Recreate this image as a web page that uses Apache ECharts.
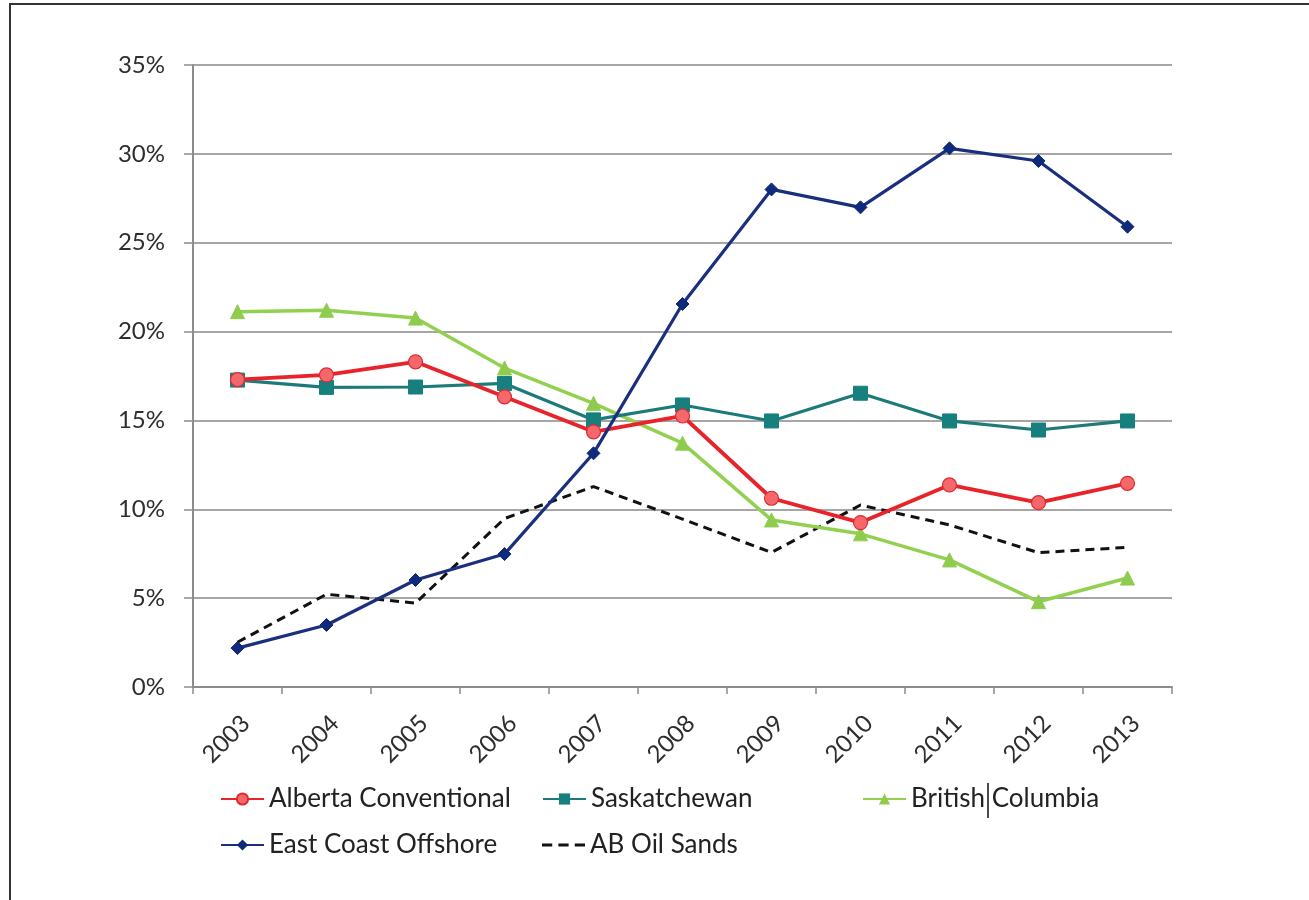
<!DOCTYPE html>
<html>
<head>
<meta charset="utf-8">
<script src="https://cdn.jsdelivr.net/npm/echarts@6/dist/echarts.min.js"></script>
<style>
  html, body { margin: 0; padding: 0; background: #fff; }
  #main { width: 1309px; height: 900px; }
</style>
</head>
<body>
<div id="main"></div>
<script>
const years = ['2003', '2004', '2005', '2006', '2007', '2008', '2009', '2010', '2011', '2012', '2013'];

const albertaConventional = [17.3, 17.56, 18.3, 16.33, 14.36, 15.25, 10.62, 9.25, 11.37, 10.37, 11.46];
const saskatchewan = [17.27, 16.86, 16.88, 17.08, 15.03, 15.87, 14.97, 16.53, 14.97, 14.46, 14.97];
const britishColumbia = [21.12, 21.2, 20.76, 17.95, 15.96, 13.72, 9.4, 8.62, 7.15, 4.8, 6.13];
const eastCoastOffshore = [2.19, 3.49, 6.02, 7.48, 13.15, 21.55, 28.0, 26.99, 30.31, 29.6, 25.9];
const abOilSands = [2.52, 5.22, 4.72, 9.48, 11.28, 9.45, 7.57, 10.24, 9.12, 7.56, 7.86];

const yTicks = { min: 0, max: 35, interval: 5 };

const font = 'Lato, "Open Sans", sans-serif';
const textColor = '#2e2e2e';
const axisGray = '#8c8c8c';

const chart = echarts.init(document.getElementById('main'));

// one legend per item so the three-column Excel layout can be kept
function legendAt(item, left, top) {
  return {
    data: [item],
    left: left,
    top: top,
    itemWidth: 43,
    itemHeight: 14,
    itemGap: 0,
    padding: 0,
    textStyle: { fontFamily: font, fontSize: 26, color: '#222' },
    selectedMode: false
  };
}

const dashIcon = 'path://M0,0h10v3h-10z M16,0h10v3h-10z M32,0h10v3h-10z';

chart.setOption({
  animation: false,
  backgroundColor: '#fff',
  graphic: [
    {
      type: 'rect',
      shape: { x: 10, y: 4, width: 1320, height: 920 },
      style: { fill: 'none', stroke: '#333', lineWidth: 2 },
      silent: true
    },
    {
      type: 'line',
      shape: { x1: 988, y1: 783, x2: 988, y2: 818 },
      style: { stroke: '#111', lineWidth: 1.5 },
      silent: true
    }
  ],
  grid: { left: 193, right: 137, top: 65, bottom: 213, containLabel: false },
  legend: [
    legendAt('Alberta Conventional', 220, 786),
    legendAt('Saskatchewan', 542, 786),
    legendAt('British Columbia', 862, 786),
    legendAt('East Coast Offshore', 220, 832),
    legendAt({ name: 'AB Oil Sands', icon: dashIcon }, 542, 832)
  ],
  xAxis: {
    type: 'category',
    data: years,
    boundaryGap: true,
    axisLine: { show: true, lineStyle: { color: axisGray, width: 2 } },
    axisTick: { show: true, length: 7, lineStyle: { color: axisGray, width: 1.5 } },
    axisLabel: {
      rotate: 45,
      margin: 24,
      verticalAlign: 'top',
      fontFamily: font,
      fontSize: 24,
      color: textColor,
      interval: 0
    },
    splitLine: { show: false }
  },
  yAxis: {
    type: 'value',
    min: yTicks.min,
    max: yTicks.max,
    interval: yTicks.interval,
    axisLine: { show: true, lineStyle: { color: axisGray, width: 2 } },
    axisTick: { show: true, length: 9, lineStyle: { color: axisGray, width: 1.5 } },
    axisLabel: {
      formatter: '{value}%',
      margin: 28,
      fontFamily: font,
      fontSize: 24,
      color: textColor
    },
    splitLine: { show: true, lineStyle: { color: '#a6a6a6', width: 2 } }
  },
  series: [
    {
      name: 'Alberta Conventional',
      type: 'line',
      data: albertaConventional,
      symbol: 'circle',
      symbolSize: 14,
      z: 4,
      lineStyle: { color: '#e8232a', width: 3.8 },
      itemStyle: { color: '#f4686b', borderColor: '#e02a2e', borderWidth: 1.2 }
    },
    {
      name: 'Saskatchewan',
      type: 'line',
      data: saskatchewan,
      symbol: 'rect',
      symbolSize: 14,
      z: 3,
      lineStyle: { color: '#1c7b7a', width: 3.2 },
      itemStyle: { color: '#17807e', borderColor: '#17807e' }
    },
    {
      name: 'British Columbia',
      type: 'line',
      data: britishColumbia,
      symbol: 'triangle',
      symbolSize: 14,
      z: 2,
      lineStyle: { color: '#92d050', width: 3.5 },
      itemStyle: { color: '#8fcc4e', borderColor: '#8fcc4e' }
    },
    {
      name: 'East Coast Offshore',
      type: 'line',
      data: eastCoastOffshore,
      symbol: 'diamond',
      symbolSize: 13,
      z: 5,
      lineStyle: { color: '#1a2f7e', width: 3.2 },
      itemStyle: { color: '#0f2a7a', borderColor: '#0f2a7a' }
    },
    {
      name: 'AB Oil Sands',
      type: 'line',
      data: abOilSands,
      symbol: 'none',
      showSymbol: false,
      z: 1,
      lineStyle: { color: '#111', width: 3, type: [9, 6] },
      itemStyle: { color: '#111' }
    }
  ]
});
</script>
</body>
</html>
